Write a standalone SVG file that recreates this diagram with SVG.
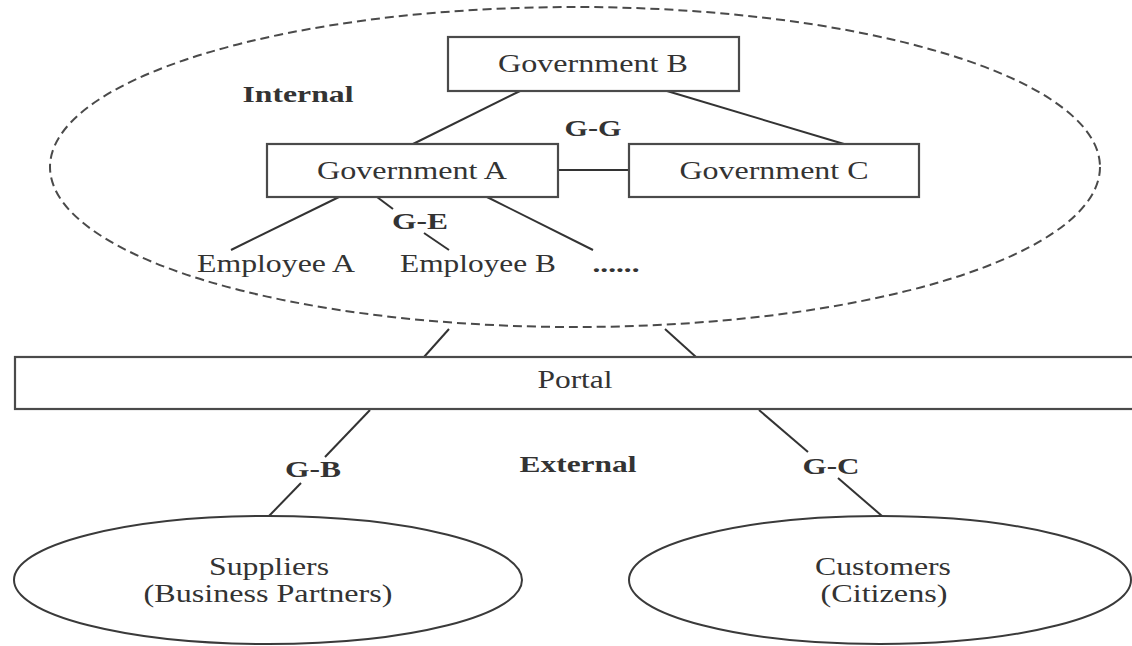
<svg xmlns="http://www.w3.org/2000/svg" width="1132" height="646" viewBox="0 0 1132 646">
  <style>
    .box { fill: #ffffff; stroke: #4a4a4a; stroke-width: 2.2; }
    .oval { fill: none; stroke: #3a3a3a; stroke-width: 2; }
    .dash { fill: none; stroke: #4a4a4a; stroke-width: 2; stroke-dasharray: 9 5; }
    .link { stroke: #333333; stroke-width: 2; fill: none; }
    .t { font-family: "Liberation Serif", "Times New Roman", serif; font-size: 26px; fill: #333333; text-anchor: middle; }
    .b { font-family: "Liberation Serif", "Times New Roman", serif; font-size: 23px; font-weight: bold; fill: #333333; text-anchor: middle; }
  </style>

  <rect width="1132" height="646" fill="#ffffff"/>

  <!-- internal boundary -->
  <g id="internal-zone">
    <ellipse class="dash" cx="575" cy="167" rx="525" ry="160"/>
    <text class="b" x="298" y="102" font-size="25" textLength="111" lengthAdjust="spacingAndGlyphs">Internal</text>
  </g>

  <!-- connectors -->
  <g id="connectors">
    <line class="link" x1="520" y1="91" x2="413" y2="144"/>
    <line class="link" x1="667" y1="91" x2="844" y2="144"/>
    <line class="link" x1="558" y1="170" x2="629" y2="170"/>
    <line class="link" x1="339" y1="197" x2="231" y2="250"/>
    <line class="link" x1="377" y1="197" x2="393" y2="209"/>
    <line class="link" x1="424" y1="233" x2="449" y2="250"/>
    <line class="link" x1="487" y1="197" x2="593" y2="250"/>
    <line class="link" x1="449" y1="329" x2="424" y2="357"/>
    <line class="link" x1="665" y1="329" x2="696" y2="357"/>
    <line class="link" x1="370" y1="410" x2="325" y2="457"/>
    <line class="link" x1="301" y1="483" x2="269" y2="516"/>
    <line class="link" x1="759" y1="410" x2="808" y2="452"/>
    <line class="link" x1="838" y1="478" x2="882" y2="516"/>
  </g>

  <g id="gov-b">
    <rect class="box" x="448" y="37" width="291" height="54"/>
    <text class="t" x="593" y="72" textLength="190" lengthAdjust="spacingAndGlyphs">Government B</text>
  </g>

  <g id="gov-a">
    <rect class="box" x="267" y="144" width="291" height="53"/>
    <text class="t" x="412" y="179" textLength="190" lengthAdjust="spacingAndGlyphs">Government A</text>
  </g>

  <g id="gov-c">
    <rect class="box" x="629" y="144" width="290" height="53"/>
    <text class="t" x="774" y="179" textLength="189" lengthAdjust="spacingAndGlyphs">Government C</text>
  </g>

  <g id="label-gg">
    <text class="b" x="593" y="136" textLength="57" lengthAdjust="spacingAndGlyphs">G-G</text>
  </g>

  <g id="label-ge">
    <text class="b" x="420" y="229" textLength="56" lengthAdjust="spacingAndGlyphs">G-E</text>
  </g>

  <g id="employee-a">
    <text class="t" x="276" y="272" textLength="158" lengthAdjust="spacingAndGlyphs">Employee A</text>
  </g>

  <g id="employee-b">
    <text class="t" x="478" y="272" textLength="156" lengthAdjust="spacingAndGlyphs">Employee B</text>
  </g>

  <g id="employee-more">
    <text class="b" x="616" y="272" textLength="47" lengthAdjust="spacingAndGlyphs">......</text>
  </g>

  <g id="portal">
    <rect class="box" x="15" y="357" width="1130" height="52"/>
    <text class="t" x="575" y="388" textLength="75" lengthAdjust="spacingAndGlyphs">Portal</text>
  </g>

  <g id="label-external">
    <text class="b" x="578" y="472" font-size="25" textLength="117" lengthAdjust="spacingAndGlyphs">External</text>
  </g>

  <g id="label-gb">
    <text class="b" x="313" y="477" textLength="56" lengthAdjust="spacingAndGlyphs">G-B</text>
  </g>

  <g id="label-gc">
    <text class="b" x="831" y="474" textLength="57" lengthAdjust="spacingAndGlyphs">G-C</text>
  </g>

  <g id="suppliers">
    <ellipse class="oval" cx="268" cy="580" rx="254" ry="64"/>
    <text class="t" x="269" y="575" textLength="120" lengthAdjust="spacingAndGlyphs">Suppliers</text>
    <text class="t" x="268" y="602" textLength="249" lengthAdjust="spacingAndGlyphs">(Business Partners)</text>
  </g>

  <g id="customers">
    <ellipse class="oval" cx="880" cy="580" rx="251" ry="64"/>
    <text class="t" x="883" y="575" textLength="136" lengthAdjust="spacingAndGlyphs">Customers</text>
    <text class="t" x="884" y="602" textLength="127" lengthAdjust="spacingAndGlyphs">(Citizens)</text>
  </g>
</svg>
